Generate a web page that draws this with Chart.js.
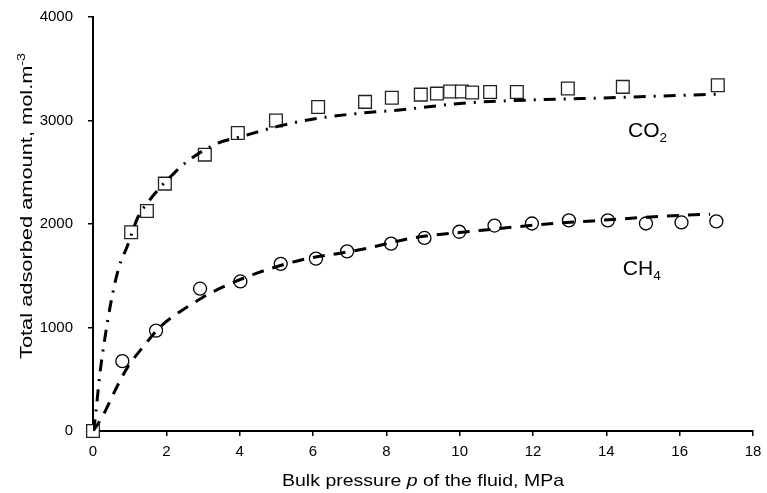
<!DOCTYPE html>
<html>
<head>
<meta charset="utf-8">
<script src="https://cdn.jsdelivr.net/npm/chart.js@4/dist/chart.umd.min.js"></script>
<style>
  html, body { margin: 0; padding: 0; background: #fff; }
  #wrap { width: 767px; height: 493px; }
</style>
</head>
<body>
<div id="wrap"><canvas id="chart" width="767" height="493"></canvas></div>
<script>
// measured points, bulk pressure (MPa) vs adsorbed amount (mol/m3)
const co2P = [0, 1.04, 1.47, 1.96, 3.05, 3.95, 4.99, 6.14, 7.42, 8.15, 8.94, 9.38, 9.74, 10.06, 10.34, 10.83, 11.56, 12.95, 14.45, 17.04];
const co2Q = [0, 1920, 2125, 2390, 2670, 2880, 3000, 3130, 3180, 3220, 3250, 3260, 3280, 3280, 3270, 3275, 3275, 3310, 3325, 3340];

const ch4P = [0, 0.8, 1.72, 2.92, 4.02, 5.12, 6.08, 6.93, 8.13, 9.04, 9.99, 10.95, 11.97, 12.98, 14.04, 15.08, 16.05, 17.0];
const ch4Q = [0, 675, 970, 1375, 1445, 1615, 1665, 1735, 1810, 1865, 1925, 1985, 2005, 2035, 2035, 2005, 2015, 2025];

// fitted curves
const co2FitP = [0, 0.03, 0.19, 0.33, 0.49, 0.71, 0.93, 1.23, 1.5, 1.77, 2.18, 2.45, 3.27, 4.2, 5.18, 6.19, 7.28, 8.29, 10.2, 12.1, 14.1, 17.0];
const co2FitQ = [0, 40, 560, 910, 1245, 1585, 1780, 2070, 2210, 2330, 2480, 2570, 2760, 2860, 2955, 3025, 3070, 3100, 3170, 3200, 3220, 3255];

const ch4FitP = [0, 0.25, 0.65, 0.95, 1.36, 1.83, 2.32, 2.78, 3.27, 4.47, 5.65, 6.93, 7.47, 8.73, 10.5, 12.38, 13.63, 15.54, 16.83];
const ch4FitQ = [0, 135, 425, 620, 810, 1005, 1140, 1245, 1345, 1525, 1650, 1730, 1765, 1865, 1935, 2000, 2030, 2075, 2095];

const xTicks = [0, 18, 2];     // min, max, step
const yTicks = [0, 4000, 1000];

const toXY = (xs, ys) => xs.map((x, i) => ({ x: x, y: ys[i] }));

const FONT = '"Liberation Sans", Arial, sans-serif';

// draw text made of parts (normal / italic / sub / sup), optionally squeezed to a width
function drawParts(ctx, parts, x, y, size, width, align) {
  const fontOf = p => (p.italic ? 'italic ' : '') + ((p.sub || p.sup) ? size * 0.65 : size) + 'px ' + FONT;
  let total = 0;
  parts.forEach(p => { ctx.font = fontOf(p); p.w = ctx.measureText(p.text).width; total += p.w; });
  const sx = width ? width / total : 1;
  const full = total * sx;
  let start = x;
  if (align === 'center') start = x - full / 2;
  ctx.save();
  ctx.translate(start, y);
  ctx.scale(sx, 1);
  ctx.textBaseline = 'alphabetic';
  ctx.textAlign = 'left';
  let cx = 0;
  parts.forEach(p => {
    ctx.font = fontOf(p);
    let dy = 0;
    if (p.sub) dy = size * 0.25;
    if (p.sup) dy = -size * 0.42;
    ctx.fillText(p.text, cx, dy);
    cx += p.w;
  });
  ctx.restore();
}

const textPlugin = {
  id: 'texts',
  afterDraw(chart) {
    const { ctx, chartArea, scales } = chart;
    ctx.save();
    ctx.fillStyle = '#000';

    drawParts(ctx, [
      { text: 'Bulk pressure ' }, { text: 'p', italic: true }, { text: ' of the fluid, MPa' }
    ], (chartArea.left + chartArea.right) / 2, 486, 17, 282, 'center');

    ctx.save();
    ctx.translate(32, 206);
    ctx.rotate(-Math.PI / 2);
    drawParts(ctx, [
      { text: 'Total adsorbed amount, mol.m' }, { text: '-3', sup: true }
    ], 0, 0, 17, 306, 'center');
    ctx.restore();

    const x = scales.x, y = scales.y;
    drawParts(ctx, [{ text: 'CO' }, { text: '2', sub: true }],
      x.getPixelForValue(14.59), y.getPixelForValue(2840), 21, null, 'left');
    drawParts(ctx, [{ text: 'CH' }, { text: '4', sub: true }],
      x.getPixelForValue(14.45), y.getPixelForValue(1505), 21, null, 'left');
    ctx.restore();
  }
};

const axisGrid = { drawOnChartArea: false, drawTicks: true, tickLength: 5, color: '#000', lineWidth: 1.5 };
const axisBorder = { color: '#000', width: 2 };
const tickFont = { family: FONT, size: 15 };

new Chart(document.getElementById('chart').getContext('2d'), {
  type: 'scatter',
  data: {
    datasets: [
      {
        data: toXY(co2FitP, co2FitQ),
        showLine: true,
        borderColor: '#000',
        borderWidth: 3,
        borderDash: [12, 8, 2, 8],
        cubicInterpolationMode: 'monotone',
        pointRadius: 0,
        order: 0
      },
      {
        data: toXY(ch4FitP, ch4FitQ),
        showLine: true,
        borderColor: '#000',
        borderWidth: 3,
        borderDash: [12, 9],
        cubicInterpolationMode: 'monotone',
        pointRadius: 0,
        order: 0
      },
      {
        data: toXY(co2P, co2Q),
        pointStyle: 'rect',
        pointRadius: 9,
        pointBorderWidth: 1.3,
        pointBorderColor: '#222',
        pointBackgroundColor: '#fff',
        clip: false,
        order: 1
      },
      {
        data: toXY(ch4P, ch4Q),
        pointStyle: 'circle',
        pointRadius: 6.5,
        pointBorderWidth: 1.3,
        pointBorderColor: '#000',
        pointBackgroundColor: '#fff',
        clip: false,
        order: 1
      }
    ]
  },
  options: {
    responsive: false,
    animation: false,
    devicePixelRatio: 1,
    layout: { padding: { top: 17, right: 14, left: 0, bottom: 0 } },
    plugins: { legend: { display: false }, tooltip: { enabled: false } },
    scales: {
      x: {
        type: 'linear',
        min: xTicks[0], max: xTicks[1],
        ticks: { stepSize: xTicks[2], color: '#000', font: tickFont, padding: 7, maxRotation: 0, callback: v => String(v) },
        grid: axisGrid,
        border: axisBorder,
        afterFit: s => { s.height = 62; s.paddingLeft = 0; s.paddingRight = 0; }
      },
      y: {
        type: 'linear',
        min: yTicks[0], max: yTicks[1],
        ticks: { stepSize: yTicks[2], color: '#000', font: tickFont, padding: 15, callback: v => String(v) },
        grid: axisGrid,
        border: axisBorder,
        afterFit: s => { s.width = 93; s.paddingTop = 0; s.paddingBottom = 0; }
      }
    }
  },
  plugins: [textPlugin]
});
</script>
</body>
</html>
